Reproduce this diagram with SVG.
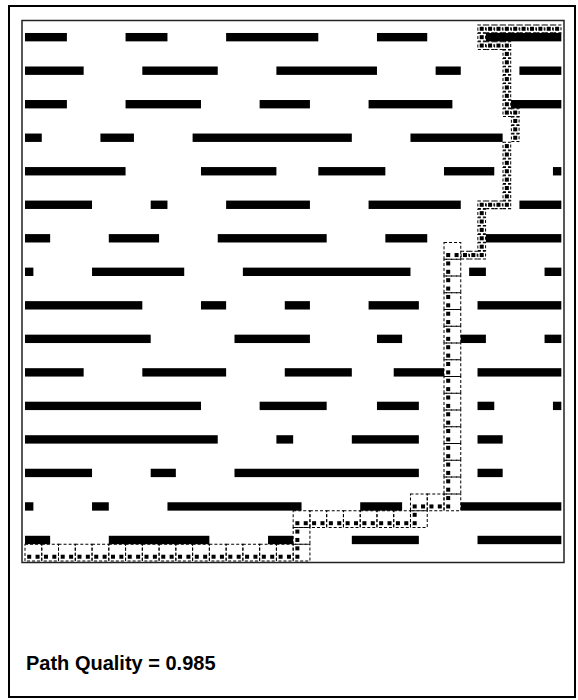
<svg xmlns="http://www.w3.org/2000/svg" xmlns:xlink="http://www.w3.org/1999/xlink" width="578" height="700" viewBox="0 0 578 700">
<style>
.bar{fill:#000}
.lbl{font-family:"Liberation Sans",Arial,sans-serif;font-size:20px;font-weight:bold;fill:#000}
</style>
<defs>
<rect id="dot" x="0.26" y="0.26" width="0.48" height="0.48" fill="#000"/>
<rect id="fb" x="0.04" y="0.04" width="0.92" height="0.92" fill="none" stroke="#000" stroke-width="0.12" stroke-dasharray="0.36 0.24"/>
<rect id="cb" x="0" y="0" width="2" height="2" fill="none" stroke="#000" stroke-width="0.12" stroke-dasharray="0.36 0.24"/>
</defs>
<rect width="578" height="700" fill="#fff"/>
<g id="frame">
<rect x="9" y="6" width="566" height="691" fill="none" stroke="#000" stroke-width="2"/>
<rect x="22" y="20.5" width="542" height="542" fill="none" stroke="#222" stroke-width="1.5"/>
</g>
<g id="obstacles" transform="translate(25 24.6) scale(8.38)">
<rect class="bar" x="0" y="1" width="5" height="1"/><rect class="bar" x="12" y="1" width="5" height="1"/><rect class="bar" x="24" y="1" width="11" height="1"/><rect class="bar" x="42" y="1" width="6" height="1"/><rect class="bar" x="55" y="1" width="9" height="1"/>
<rect class="bar" x="0" y="5" width="7" height="1"/><rect class="bar" x="14" y="5" width="9" height="1"/><rect class="bar" x="30" y="5" width="12" height="1"/><rect class="bar" x="49" y="5" width="3" height="1"/><rect class="bar" x="59" y="5" width="5" height="1"/>
<rect class="bar" x="0" y="9" width="5" height="1"/><rect class="bar" x="12" y="9" width="9" height="1"/><rect class="bar" x="28" y="9" width="6" height="1"/><rect class="bar" x="41" y="9" width="10" height="1"/><rect class="bar" x="58" y="9" width="6" height="1"/>
<rect class="bar" x="0" y="13" width="2" height="1"/><rect class="bar" x="9" y="13" width="4" height="1"/><rect class="bar" x="20" y="13" width="19" height="1"/><rect class="bar" x="46" y="13" width="11" height="1"/>
<rect class="bar" x="0" y="17" width="12" height="1"/><rect class="bar" x="21" y="17" width="9" height="1"/><rect class="bar" x="35" y="17" width="8" height="1"/><rect class="bar" x="50" y="17" width="6" height="1"/><rect class="bar" x="63" y="17" width="1" height="1"/>
<rect class="bar" x="0" y="21" width="8" height="1"/><rect class="bar" x="15" y="21" width="2" height="1"/><rect class="bar" x="24" y="21" width="10" height="1"/><rect class="bar" x="41" y="21" width="11" height="1"/><rect class="bar" x="59" y="21" width="5" height="1"/>
<rect class="bar" x="0" y="25" width="3" height="1"/><rect class="bar" x="10" y="25" width="6" height="1"/><rect class="bar" x="23" y="25" width="13" height="1"/><rect class="bar" x="43" y="25" width="5" height="1"/><rect class="bar" x="55" y="25" width="9" height="1"/>
<rect class="bar" x="0" y="29" width="1" height="1"/><rect class="bar" x="8" y="29" width="11" height="1"/><rect class="bar" x="26" y="29" width="20" height="1"/><rect class="bar" x="53" y="29" width="2" height="1"/><rect class="bar" x="62" y="29" width="2" height="1"/>
<rect class="bar" x="0" y="33" width="14" height="1"/><rect class="bar" x="21" y="33" width="3" height="1"/><rect class="bar" x="31" y="33" width="3" height="1"/><rect class="bar" x="41" y="33" width="6" height="1"/><rect class="bar" x="54" y="33" width="10" height="1"/>
<rect class="bar" x="0" y="37" width="15" height="1"/><rect class="bar" x="25" y="37" width="9" height="1"/><rect class="bar" x="42" y="37" width="3" height="1"/><rect class="bar" x="52" y="37" width="3" height="1"/><rect class="bar" x="62" y="37" width="2" height="1"/>
<rect class="bar" x="0" y="41" width="7" height="1"/><rect class="bar" x="14" y="41" width="10" height="1"/><rect class="bar" x="31" y="41" width="8" height="1"/><rect class="bar" x="44" y="41" width="6" height="1"/><rect class="bar" x="54" y="41" width="10" height="1"/>
<rect class="bar" x="0" y="45" width="21" height="1"/><rect class="bar" x="28" y="45" width="8" height="1"/><rect class="bar" x="42" y="45" width="5" height="1"/><rect class="bar" x="54" y="45" width="2" height="1"/><rect class="bar" x="63" y="45" width="1" height="1"/>
<rect class="bar" x="0" y="49" width="23" height="1"/><rect class="bar" x="30" y="49" width="2" height="1"/><rect class="bar" x="39" y="49" width="8" height="1"/><rect class="bar" x="54" y="49" width="3" height="1"/>
<rect class="bar" x="0" y="53" width="8" height="1"/><rect class="bar" x="15" y="53" width="3" height="1"/><rect class="bar" x="25" y="53" width="22" height="1"/><rect class="bar" x="54" y="53" width="3" height="1"/>
<rect class="bar" x="0" y="57" width="1" height="1"/><rect class="bar" x="8" y="57" width="2" height="1"/><rect class="bar" x="17" y="57" width="16" height="1"/><rect class="bar" x="40" y="57" width="5" height="1"/><rect class="bar" x="52" y="57" width="12" height="1"/>
<rect class="bar" x="0" y="61" width="3" height="1"/><rect class="bar" x="10" y="61" width="12" height="1"/><rect class="bar" x="29" y="61" width="3" height="1"/><rect class="bar" x="39" y="61" width="8" height="1"/><rect class="bar" x="54" y="61" width="10" height="1"/>
</g>
<g id="path" transform="translate(25 24.6) scale(8.38)">
<g id="fine-cells">
<use href="#fb" x="54" y="0"/><use href="#fb" x="55" y="0"/><use href="#fb" x="56" y="0"/><use href="#fb" x="57" y="0"/><use href="#fb" x="58" y="0"/><use href="#fb" x="59" y="0"/><use href="#fb" x="60" y="0"/><use href="#fb" x="61" y="0"/><use href="#fb" x="62" y="0"/><use href="#fb" x="63" y="0"/>
<use href="#fb" x="54" y="1"/>
<use href="#fb" x="54" y="2"/><use href="#fb" x="55" y="2"/><use href="#fb" x="56" y="2"/><use href="#fb" x="57" y="2"/>
<use href="#fb" x="57" y="3"/><use href="#fb" x="57" y="4"/><use href="#fb" x="57" y="5"/><use href="#fb" x="57" y="6"/><use href="#fb" x="57" y="7"/><use href="#fb" x="57" y="8"/><use href="#fb" x="57" y="9"/><use href="#fb" x="57" y="10"/>
<use href="#fb" x="58" y="10"/><use href="#fb" x="58" y="11"/><use href="#fb" x="58" y="12"/><use href="#fb" x="58" y="13"/>
<use href="#fb" x="57" y="14"/><use href="#fb" x="57" y="15"/><use href="#fb" x="57" y="16"/><use href="#fb" x="57" y="17"/><use href="#fb" x="57" y="18"/><use href="#fb" x="57" y="19"/><use href="#fb" x="57" y="20"/><use href="#fb" x="57" y="21"/>
<use href="#fb" x="54" y="21"/><use href="#fb" x="55" y="21"/><use href="#fb" x="56" y="21"/>
<use href="#fb" x="54" y="22"/><use href="#fb" x="54" y="23"/><use href="#fb" x="54" y="24"/><use href="#fb" x="54" y="25"/><use href="#fb" x="54" y="26"/><use href="#fb" x="54" y="27"/>
<use href="#fb" x="52" y="27"/><use href="#fb" x="53" y="27"/>
</g>
<g id="coarse-cells">
<use href="#cb" x="50" y="26"/><use href="#cb" x="50" y="28"/><use href="#cb" x="50" y="30"/><use href="#cb" x="50" y="32"/><use href="#cb" x="50" y="34"/><use href="#cb" x="50" y="36"/><use href="#cb" x="50" y="38"/><use href="#cb" x="50" y="40"/><use href="#cb" x="50" y="42"/><use href="#cb" x="50" y="44"/><use href="#cb" x="50" y="46"/><use href="#cb" x="50" y="48"/><use href="#cb" x="50" y="50"/><use href="#cb" x="50" y="52"/><use href="#cb" x="50" y="54"/><use href="#cb" x="50" y="56"/>
<use href="#cb" x="48" y="56"/><use href="#cb" x="46" y="56"/><use href="#cb" x="46" y="58"/>
<use href="#cb" x="32" y="58"/><use href="#cb" x="34" y="58"/><use href="#cb" x="36" y="58"/><use href="#cb" x="38" y="58"/><use href="#cb" x="40" y="58"/><use href="#cb" x="42" y="58"/><use href="#cb" x="44" y="58"/>
<use href="#cb" x="32" y="60"/><use href="#cb" x="32" y="62"/>
<use href="#cb" x="0" y="62"/><use href="#cb" x="2" y="62"/><use href="#cb" x="4" y="62"/><use href="#cb" x="6" y="62"/><use href="#cb" x="8" y="62"/><use href="#cb" x="10" y="62"/><use href="#cb" x="12" y="62"/><use href="#cb" x="14" y="62"/><use href="#cb" x="16" y="62"/><use href="#cb" x="18" y="62"/><use href="#cb" x="20" y="62"/><use href="#cb" x="22" y="62"/><use href="#cb" x="24" y="62"/><use href="#cb" x="26" y="62"/><use href="#cb" x="28" y="62"/><use href="#cb" x="30" y="62"/>
</g>
<g id="path-dots">
<use href="#dot" x="54" y="0"/><use href="#dot" x="55" y="0"/><use href="#dot" x="56" y="0"/><use href="#dot" x="57" y="0"/><use href="#dot" x="58" y="0"/><use href="#dot" x="59" y="0"/><use href="#dot" x="60" y="0"/><use href="#dot" x="61" y="0"/><use href="#dot" x="62" y="0"/><use href="#dot" x="63" y="0"/>
<use href="#dot" x="54" y="1"/>
<use href="#dot" x="54" y="2"/><use href="#dot" x="55" y="2"/><use href="#dot" x="56" y="2"/><use href="#dot" x="57" y="2"/>
<use href="#dot" x="57" y="3"/><use href="#dot" x="57" y="4"/><use href="#dot" x="57" y="5"/><use href="#dot" x="57" y="6"/><use href="#dot" x="57" y="7"/><use href="#dot" x="57" y="8"/><use href="#dot" x="57" y="9"/><use href="#dot" x="57" y="10"/>
<use href="#dot" x="58" y="10"/><use href="#dot" x="58" y="11"/><use href="#dot" x="58" y="12"/><use href="#dot" x="58" y="13"/>
<use href="#dot" x="57" y="14"/><use href="#dot" x="57" y="15"/><use href="#dot" x="57" y="16"/><use href="#dot" x="57" y="17"/><use href="#dot" x="57" y="18"/><use href="#dot" x="57" y="19"/><use href="#dot" x="57" y="20"/><use href="#dot" x="57" y="21"/>
<use href="#dot" x="54" y="21"/><use href="#dot" x="55" y="21"/><use href="#dot" x="56" y="21"/>
<use href="#dot" x="54" y="22"/><use href="#dot" x="54" y="23"/><use href="#dot" x="54" y="24"/><use href="#dot" x="54" y="25"/><use href="#dot" x="54" y="26"/><use href="#dot" x="54" y="27"/>
<use href="#dot" x="50" y="27"/><use href="#dot" x="51" y="27"/><use href="#dot" x="52" y="27"/><use href="#dot" x="53" y="27"/>
<use href="#dot" x="50" y="28"/><use href="#dot" x="50" y="29"/><use href="#dot" x="50" y="30"/><use href="#dot" x="50" y="31"/><use href="#dot" x="50" y="32"/><use href="#dot" x="50" y="33"/><use href="#dot" x="50" y="34"/><use href="#dot" x="50" y="35"/><use href="#dot" x="50" y="36"/><use href="#dot" x="50" y="37"/><use href="#dot" x="50" y="38"/><use href="#dot" x="50" y="39"/><use href="#dot" x="50" y="40"/><use href="#dot" x="50" y="41"/><use href="#dot" x="50" y="42"/><use href="#dot" x="50" y="43"/><use href="#dot" x="50" y="44"/><use href="#dot" x="50" y="45"/><use href="#dot" x="50" y="46"/><use href="#dot" x="50" y="47"/><use href="#dot" x="50" y="48"/><use href="#dot" x="50" y="49"/><use href="#dot" x="50" y="50"/><use href="#dot" x="50" y="51"/><use href="#dot" x="50" y="52"/><use href="#dot" x="50" y="53"/><use href="#dot" x="50" y="54"/><use href="#dot" x="50" y="55"/><use href="#dot" x="50" y="56"/><use href="#dot" x="50" y="57"/>
<use href="#dot" x="46" y="57"/><use href="#dot" x="47" y="57"/><use href="#dot" x="48" y="57"/><use href="#dot" x="49" y="57"/>
<use href="#dot" x="46" y="58"/><use href="#dot" x="46" y="59"/>
<use href="#dot" x="32" y="59"/><use href="#dot" x="33" y="59"/><use href="#dot" x="34" y="59"/><use href="#dot" x="35" y="59"/><use href="#dot" x="36" y="59"/><use href="#dot" x="37" y="59"/><use href="#dot" x="38" y="59"/><use href="#dot" x="39" y="59"/><use href="#dot" x="40" y="59"/><use href="#dot" x="41" y="59"/><use href="#dot" x="42" y="59"/><use href="#dot" x="43" y="59"/><use href="#dot" x="44" y="59"/><use href="#dot" x="45" y="59"/>
<use href="#dot" x="32" y="60"/><use href="#dot" x="32" y="61"/><use href="#dot" x="32" y="62"/><use href="#dot" x="32" y="63"/>
<use href="#dot" x="0" y="63"/><use href="#dot" x="1" y="63"/><use href="#dot" x="2" y="63"/><use href="#dot" x="3" y="63"/><use href="#dot" x="4" y="63"/><use href="#dot" x="5" y="63"/><use href="#dot" x="6" y="63"/><use href="#dot" x="7" y="63"/><use href="#dot" x="8" y="63"/><use href="#dot" x="9" y="63"/><use href="#dot" x="10" y="63"/><use href="#dot" x="11" y="63"/><use href="#dot" x="12" y="63"/><use href="#dot" x="13" y="63"/><use href="#dot" x="14" y="63"/><use href="#dot" x="15" y="63"/><use href="#dot" x="16" y="63"/><use href="#dot" x="17" y="63"/><use href="#dot" x="18" y="63"/><use href="#dot" x="19" y="63"/><use href="#dot" x="20" y="63"/><use href="#dot" x="21" y="63"/><use href="#dot" x="22" y="63"/><use href="#dot" x="23" y="63"/><use href="#dot" x="24" y="63"/><use href="#dot" x="25" y="63"/><use href="#dot" x="26" y="63"/><use href="#dot" x="27" y="63"/><use href="#dot" x="28" y="63"/><use href="#dot" x="29" y="63"/><use href="#dot" x="30" y="63"/><use href="#dot" x="31" y="63"/>
</g>
</g>
<g id="label">
<text class="lbl" x="26" y="670">Path Quality = 0.985</text>
</g>
</svg>
